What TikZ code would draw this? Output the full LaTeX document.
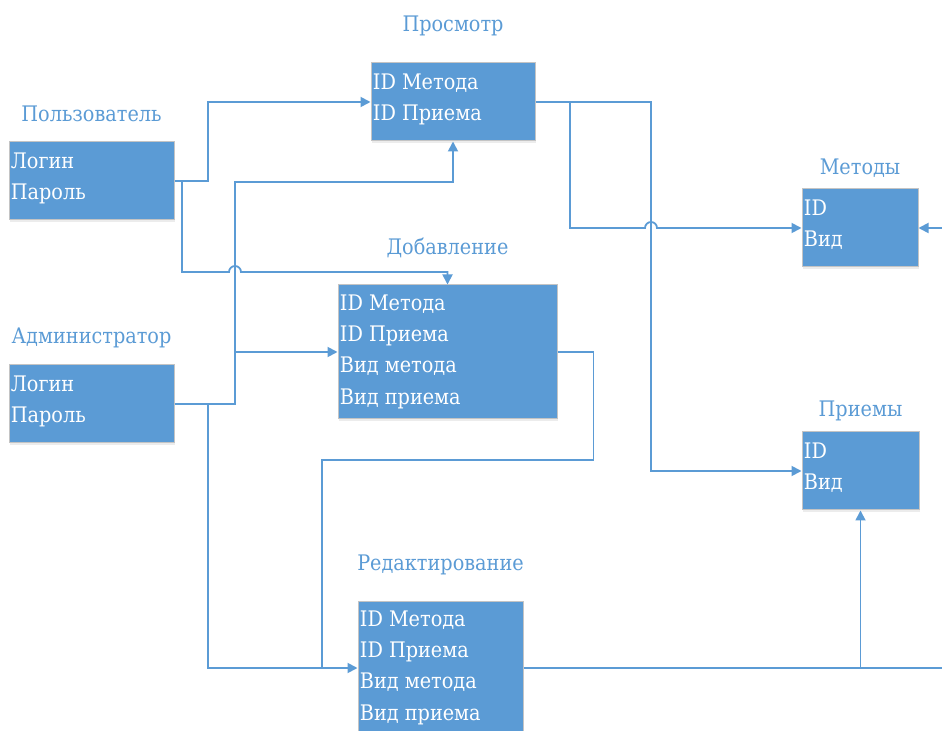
\documentclass[tikz,border=0pt]{standalone}
\usepackage{fontspec}
\newfontfamily\tblfont{DejaVu Serif Condensed}
\usetikzlibrary{arrows.meta,fit,shadows}

\definecolor{tblblue}{HTML}{5B9BD5}
\definecolor{tbledge}{HTML}{C4C4C4}

\tikzset{
  tbl/.style={draw=tbledge, line width=0.5pt, fill=tblblue, inner sep=0pt,
    drop shadow={shadow xshift=0.6pt, shadow yshift=-1.2pt, opacity=0.15}},
  fields/.style={anchor=north west, inner sep=0pt, align=left, text=white,
    font=\tblfont\fontsize{10.7}{15.6}\selectfont},
  ttl/.style={anchor=base, inner sep=0pt, text=tblblue,
    font=\tblfont\fontsize{10.7}{14}\selectfont},
  link/.style={draw=tblblue, line width=0.9pt},
}

\begin{document}
\begin{tikzpicture}[x=0.5pt,y=-0.5pt,>={Triangle[length=5pt,width=5pt]}]
    \useasboundingbox (0,0) rectangle (942,731);

    % Tables
    \node[tbl, fit={(9,142) (174,220)}] (polz) {};
    \node[tbl, fit={(9,365) (174,443)}] (adm) {};
    \node[tbl, fit={(371,63) (535,141)}] (prosm) {};
    \node[tbl, fit={(338,285) (557,419)}] (dob) {};
    \node[tbl, fit={(358,601) (523,735)}] (red) {};
    \node[tbl, fit={(802,189) (918,267)}] (met) {};
    \node[tbl, fit={(802,432) (919,510)}] (pri) {};

    % Table titles
    \node[ttl] (polzt) at ([yshift=10pt]polz.north) {Пользователь};
    \node[ttl] (admt) at ([yshift=10.5pt]adm.north) {Администратор};
    \node[ttl] (prosmt) at ([yshift=15.5pt]prosm.north) {Просмотр};
    \node[ttl] (dobt) at ([yshift=15pt]dob.north) {Добавление};
    \node[ttl] (redt) at ([yshift=15pt]red.north) {Редактирование};
    \node[ttl] (mett) at ([yshift=7pt]met.north) {Методы};
    \node[ttl] (prit) at ([yshift=7.5pt]pri.north) {Приемы};

    % Fields
    \node[fields] (polzf) at ([shift={(1pt,-5.5pt)}]polz.north west) {Логин\\Пароль};
    \node[fields] (admf) at ([shift={(1pt,-5.5pt)}]adm.north west) {Логин\\Пароль};
    \node[fields] (prosmf) at ([shift={(1pt,-5.5pt)}]prosm.north west) {ID Метода\\ID Приема};
    \node[fields] (dobf) at ([shift={(1pt,-5pt)}]dob.north west) {ID Метода\\ID Приема\\Вид метода\\Вид приема};
    \node[fields] (redf) at ([shift={(1pt,-5pt)}]red.north west) {ID Метода\\ID Приема\\Вид метода\\Вид приема};
    \node[fields] (metf) at ([shift={(1pt,-5.5pt)}]met.north west) {ID\\Вид};
    \node[fields] (prif) at ([shift={(1pt,-5.5pt)}]pri.north west) {ID\\Вид};

    % Junctions and free ends
    \coordinate (pj) at (182,0 |- polz.east);
    \coordinate (aj1) at (235,0 |- dob.west);
    \coordinate (aj2) at (208,0 |- adm.east);
    \coordinate (vj) at (570,0 |- prosm.east);
    \coordinate (rj) at (pri.south |- red.east);
    \coordinate (mr) at (942,0 |- met.east);
    \coordinate (rr) at (942,0 |- red.east);

    % Пользователь
    \draw[link,->] (polz.east) -- (208,0 |- polz.east) |- (prosm.west);
    \draw[link,->] (pj) |- (229,272) arc[start angle=180, end angle=360, radius=6] -| (dob.north);

    % Администратор
    \draw[link,->] (adm.east) -| (235,182) -| (prosm.south);
    \draw[link,->] (aj1) -- (dob.west);
    \draw[link,->] (aj2) |- (red.west);
    \draw[link] (dob.east) -- ++(36,0) |- (322,460) -- (322,0 |- red.west);

    % Просмотр
    \draw[link,->] (prosm.east) -| (651,0 |- pri.west) -- (pri.west);
    \draw[link,->] (vj) |- (645,0 |- met.west) arc[start angle=180, end angle=360, radius=6] -- (met.west);
    \draw[link,->] (mr) -- (met.east);

    % Редактирование
    \draw[link] (red.east) -- (rr);
    \draw[link,->] (rj) -- (pri.south);

\end{tikzpicture}
\end{document}
